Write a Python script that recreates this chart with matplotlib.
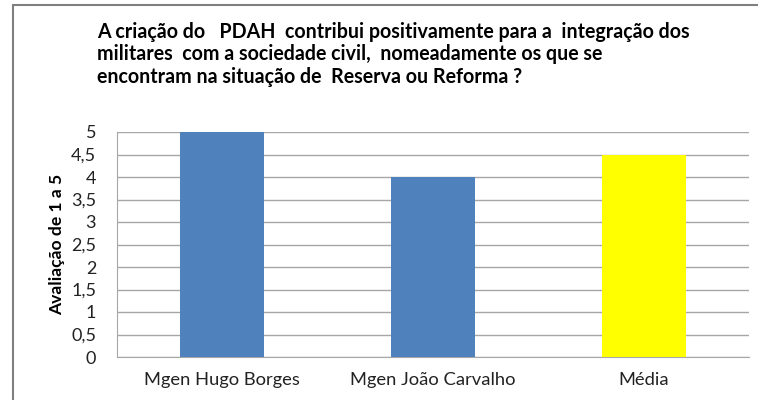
import matplotlib
matplotlib.use("Agg")
import matplotlib.pyplot as plt
from matplotlib.patches import Rectangle

categories = ["Mgen Hugo Borges", "Mgen João Carvalho", "Média"]
values = [5, 4, 4.5]
colors = ["#4F81BD", "#4F81BD", "#FFFF00"]
yticks = [0, 0.5, 1, 1.5, 2, 2.5, 3, 3.5, 4, 4.5, 5]
ytick_labels = ["0", "0,5", "1", "1,5", "2", "2,5", "3", "3,5", "4", "4,5", "5"]
title_lines = [
    "A criação do   PDAH  contribui positivamente para a  integração dos",
    "militares  com a sociedade civil,  nomeadamente os que se",
    "encontram na situação de  Reserva ou Reforma ?",
]
ylabel = "Avaliação de 1 a 5"

plt.rcParams['font.family'] = ['Lato', 'DejaVu Sans']

fig = plt.figure(figsize=(7.58, 4.0), dpi=100)
ax = fig.add_axes([117/758, 1-357/400, (749-117)/758, (357-132)/400])

x = list(range(len(categories)))
ax.bar(x, values, width=0.4, color=colors, zorder=3)
ax.set_xlim(-0.5, len(categories) - 0.5)
ax.set_ylim(0, 5)
ax.set_yticks(yticks)
ax.set_yticklabels(ytick_labels, fontsize=13, color="#222222")
ax.set_xticks(x)
ax.set_xticklabels(categories, fontsize=13.2, color="#222222")
ax.tick_params(axis='y', length=0, pad=15)
ax.tick_params(axis='x', length=0, pad=11)
ax.grid(axis='y', color="#A6A6A6", linewidth=1.0, zorder=0)
for s in ["top", "right"]:
    ax.spines[s].set_visible(False)
ax.spines["left"].set_color("#A6A6A6")
ax.spines["bottom"].set_color("#A6A6A6")
ax.set_ylabel(ylabel, fontsize=12.6, fontweight='bold', labelpad=4)

# title
for i, line in enumerate(title_lines):
    fig.text(97/758, 1 - (32 + 22.5*i)/400, line, fontsize=14.1, fontweight='bold',
             ha='left', va='center')

# chart border
fig.patches.append(Rectangle((13/758, -0.1), 1.2, 1 - 5/400 + 0.1, transform=fig.transFigure,
                             fill=False, edgecolor="#7F7F7F", linewidth=1.5))

fig.savefig("out.png", dpi=100)
